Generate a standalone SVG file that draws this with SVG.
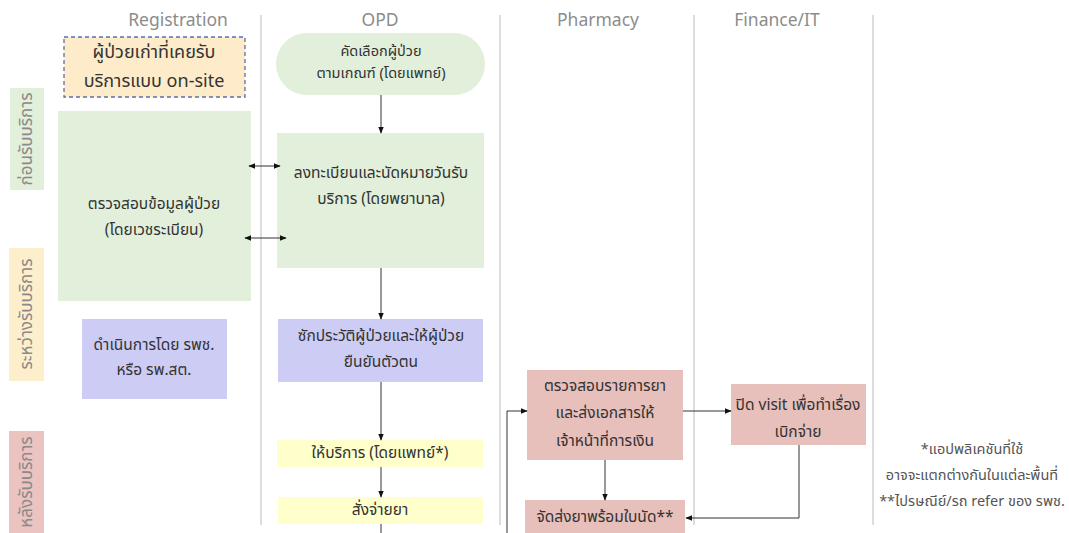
<svg xmlns="http://www.w3.org/2000/svg" width="1069" height="533" viewBox="0 0 1069 533">
<style>
text{font-family:"Noto Sans Thai","Noto Sans","DejaVu Sans",sans-serif;fill:#333;text-anchor:middle;dominant-baseline:central}
.hdr{font-size:17.5px;fill:#8c8c8c}
.t{font-size:15.5px}
.s{font-size:14.5px}
.n{font-size:14.5px;fill:#555}
.lane{stroke:#bbb;stroke-width:1;fill:none}
.c{stroke:#333;stroke-width:1;fill:none}
.g{fill:#e2efda}
.p{fill:#ccccf5}
.y{fill:#ffffcc}
.r{fill:#e7bfbb}
.side{font-size:17px;fill:#8a8a8a}
</style>
<defs>
<marker id="ah" viewBox="0 0 10 10" refX="9" refY="5" markerWidth="7" markerHeight="7" orient="auto-start-reverse"><path d="M0,1 L10,5 L0,9 z" fill="#111"/></marker>
</defs>
<rect width="1069" height="533" fill="#fff"/>
<g id="lanes">
<line class="lane" x1="261" y1="15" x2="261" y2="525"/>
<line class="lane" x1="500" y1="15" x2="500" y2="525"/>
<line class="lane" x1="694" y1="15" x2="694" y2="525"/>
<line class="lane" x1="873" y1="15" x2="873" y2="525"/>
<text class="hdr" x="178" y="20">Registration</text>
<text class="hdr" x="380" y="20">OPD</text>
<text class="hdr" x="598" y="20">Pharmacy</text>
<text class="hdr" x="777" y="20">Finance/IT</text>
</g>
<g id="phase-before"><rect x="10" y="88" width="34" height="102" class="g"/><text class="side" transform="translate(27,139) rotate(-90)">ก่อนรับบริการ</text></g>
<g id="phase-during"><rect x="9" y="248" width="35" height="133" fill="#fdefcc"/><text class="side" transform="translate(27,314) rotate(-90)">ระหว่างรับบริการ</text></g>
<g id="phase-after"><rect x="9" y="431" width="35" height="102" fill="#ebc3c1"/><text class="side" transform="translate(27,482) rotate(-90)">หลังรับบริการ</text></g>
<g id="old-patient"><rect x="64" y="37" width="181" height="60" fill="#fdebc9" stroke="#5a6fb0" stroke-width="1.3" stroke-dasharray="4,3"/><text x="154" y="52" style="font-size:18px">ผู้ป่วยเก่าที่เคยรับ</text><text x="154" y="81" style="font-size:18px">บริการแบบ on-site</text></g>
<g id="select"><rect x="276" y="33" width="209" height="62" rx="31" class="g"/><text class="s" x="381" y="52">คัดเลือกผู้ป่วย</text><text class="s" x="381" y="74">ตามเกณฑ์ (โดยแพทย์)</text></g>
<g id="check-data"><rect x="58" y="111" width="193" height="190" class="g"/><text class="t" x="154" y="204">ตรวจสอบข้อมูลผู้ป่วย</text><text class="t" x="154" y="230">(โดยเวชระเบียน)</text></g>
<g id="register"><rect x="277" y="133" width="207" height="135" class="g"/><text class="t" x="381" y="173">ลงทะเบียนและนัดหมายวันรับ</text><text class="t" x="381" y="199">บริการ (โดยพยาบาล)</text></g>
<g id="hospital"><rect x="82" y="319" width="145" height="80" class="p"/><text class="t" x="154" y="345">ดำเนินการโดย รพช.</text><text class="t" x="154" y="370">หรือ รพ.สต.</text></g>
<g id="history"><rect x="278" y="319" width="205" height="63" class="p"/><text class="t" x="381" y="336">ซักประวัติผู้ป่วยและให้ผู้ป่วย</text><text class="t" x="381" y="362">ยืนยันตัวตน</text></g>
<g id="service"><rect x="277" y="440" width="206" height="27" class="y"/><text class="t" x="380" y="453">ให้บริการ (โดยแพทย์*)</text></g>
<g id="prescribe"><rect x="278" y="497" width="205" height="27" class="y"/><text class="t" x="380" y="510">สั่งจ่ายยา</text></g>
<g id="check-drug"><rect x="527" y="370" width="156" height="90" class="r"/><text class="t" x="605" y="386">ตรวจสอบรายการยา</text><text class="t" x="605" y="413">และส่งเอกสารให้</text><text class="t" x="605" y="441">เจ้าหน้าที่การเงิน</text></g>
<g id="close-visit"><rect x="731" y="384" width="135" height="61" class="r"/><text class="t" x="798" y="405">ปิด visit เพื่อทำเรื่อง</text><text class="t" x="798" y="432">เบิกจ่าย</text></g>
<g id="deliver"><rect x="525" y="500" width="160" height="33" class="r"/><text class="t" x="605" y="517">จัดส่งยาพร้อมใบนัด**</text></g>
<g id="note"><text class="n" x="972" y="450">*แอปพลิเคชันที่ใช้</text><text class="n" x="972" y="476">อาจจะแตกต่างกันในแต่ละพื้นที่</text><text class="n" x="972" y="502">**ไปรษณีย์/รถ refer ของ รพช.</text></g>
<g id="connectors">
<line class="c" x1="381" y1="95" x2="381" y2="133" marker-end="url(#ah)"/>
<line class="c" x1="249" y1="166" x2="280" y2="166" marker-start="url(#ah)" marker-end="url(#ah)"/>
<line class="c" x1="245" y1="238" x2="286" y2="238" marker-start="url(#ah)" marker-end="url(#ah)"/>
<line class="c" x1="381" y1="268" x2="381" y2="319" marker-end="url(#ah)"/>
<line class="c" x1="381" y1="382" x2="381" y2="440" marker-end="url(#ah)"/>
<line class="c" x1="381" y1="467" x2="381" y2="497" marker-end="url(#ah)"/>
<line class="c" x1="381" y1="524" x2="381" y2="533"/>
<polyline class="c" points="507,533 507,411 527,411" marker-end="url(#ah)"/>
<line class="c" x1="683" y1="411" x2="731" y2="411" marker-end="url(#ah)"/>
<line class="c" x1="605" y1="460" x2="605" y2="500" marker-end="url(#ah)"/>
<polyline class="c" points="799,445 799,518 686,518" marker-end="url(#ah)"/>
</g>
</svg>
